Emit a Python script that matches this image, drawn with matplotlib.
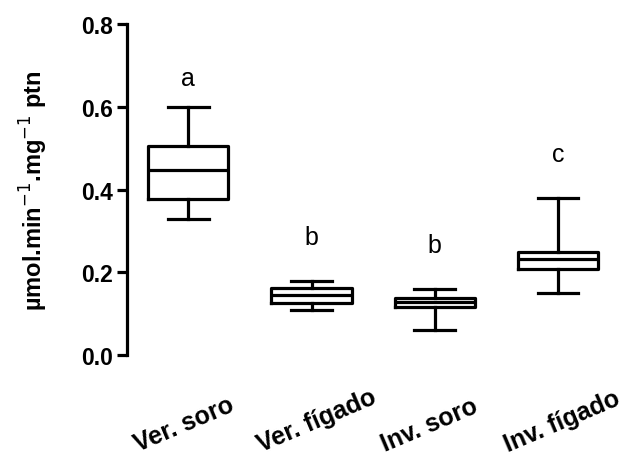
import matplotlib.pyplot as plt
import matplotlib.transforms as mtransforms

plt.rcParams['font.family'] = ['Liberation Sans', 'DejaVu Sans']

groups = ['Ver. soro', 'Ver. fígado', 'Inv. soro', 'Inv. fígado']
whis_low = [0.33, 0.11, 0.06, 0.15]
q1 = [0.378, 0.126, 0.116, 0.208]
median = [0.447, 0.145, 0.128, 0.232]
q3 = [0.505, 0.162, 0.138, 0.250]
whis_high = [0.60, 0.18, 0.16, 0.38]
letters = ['a', 'b', 'b', 'c']
letter_y = [0.67, 0.285, 0.265, 0.485]

stats = []
for i in range(len(groups)):
    stats.append(dict(label=groups[i], whislo=whis_low[i], q1=q1[i], med=median[i],
                      q3=q3[i], whishi=whis_high[i], fliers=[]))

fig = plt.figure(figsize=(6.4, 4.56), dpi=100)
ax = fig.add_axes([0.198, 0.219, 0.77, 0.726])

lw = 2.3
ax.bxp(stats, positions=[1, 2, 3, 4], widths=0.65, showfliers=False,
       boxprops=dict(linewidth=lw, color='black'),
       medianprops=dict(linewidth=lw, color='black'),
       whiskerprops=dict(linewidth=lw, color='black'),
       capprops=dict(linewidth=lw, color='black'),
       capwidths=0.33)

for i in range(len(groups)):
    ax.text(i + 1, letter_y[i], letters[i], ha='center', va='center', fontsize=18)

ax.set_xlim(0.5, 4.5)
ax.set_ylim(0, 0.8)
ax.set_yticks([0.0, 0.2, 0.4, 0.6, 0.8])
ax.set_yticklabels(['0.0', '0.2', '0.4', '0.6', '0.8'], fontsize=16.5, fontweight='bold')
ax.set_xticks([1, 2, 3, 4])
ax.set_xticklabels(groups, fontsize=18, fontweight='bold', rotation=23,
                   ha='left', va='baseline', rotation_mode='anchor')
ax.tick_params(axis='y', length=7, width=2.3, direction='out', pad=3)
ax.tick_params(axis='x', length=0, pad=69)

# start each slanted group name a bit left of its box
shift = mtransforms.ScaledTranslation(-50 / 100, 0, fig.dpi_scale_trans)
for lab in ax.get_xticklabels():
    lab.set_transform(lab.get_transform() + shift)

ax.spines['top'].set_visible(False)
ax.spines['right'].set_visible(False)
ax.spines['bottom'].set_visible(False)
ax.spines['left'].set_linewidth(2.3)

ax.set_ylabel('µmol.min$^{-1}$.mg$^{-1}$ ptn', fontsize=17, fontweight='bold', labelpad=22)

fig.savefig('out.png', dpi=100)
